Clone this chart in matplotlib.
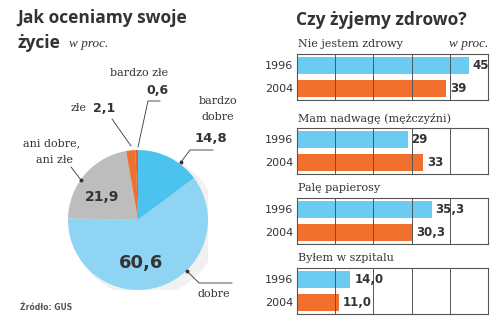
import matplotlib
matplotlib.use("Agg")
import matplotlib.pyplot as plt
from matplotlib.patches import Ellipse

# ---- data ----
pie_labels = ["bardzo dobre", "dobre", "ani dobre, ani złe", "złe", "bardzo złe"]
pie_values = [14.8, 60.6, 21.9, 2.1, 0.6]
pie_colors = ["#4cc3ef", "#8fd4f3", "#bdbdbd", "#f07030", "#e0622a"]

bar_titles = ["Nie jestem zdrowy", "Mam nadwagę (mężczyźni)", "Palę papierosy", "Byłem w szpitalu"]
years = ["1996", "2004"]
vals_1996 = [45, 29, 35.3, 14.0]
vals_2004 = [39, 33, 30.3, 11.0]
labels_1996 = ["45", "29", "35,3", "14,0"]
labels_2004 = ["39", "33", "30,3", "11,0"]
year_colors = ["#6ccbf0", "#f2702e"]

W, H = 500, 323
fig = plt.figure(figsize=(W / 100, H / 100), dpi=100)
fig.patch.set_facecolor("white")

TXT = "#333333"
TITLE = "Open Sans"
NUM = "DejaVu Sans"
SERIF = "DejaVu Serif"
ITAL = "Liberation Serif"

def fx(x):
    return x / W

def fy(y):
    return 1 - y / H

# overlay axes in pixel coords
ov = fig.add_axes([0, 0, 1, 1])
ov.set_xlim(0, W)
ov.set_ylim(H, 0)
ov.axis("off")
ov.set_zorder(5)

# ---- pie ----
cx, cy, r = 138, 220, 70
pax = fig.add_axes([fx(cx - r), fy(cy + r), fx(2 * r), (2 * r) / H])
pax.add_patch(Ellipse((0.1, -0.08), 2.06, 2.02, color="#f1f1f1", zorder=0))
pax.pie(pie_values, colors=pie_colors, startangle=90, counterclock=False,
        radius=1.0, wedgeprops=dict(linewidth=0))
pax.set_xlim(-1, 1)
pax.set_ylim(-1, 1)
pax.set_aspect("auto")
pax.axis("off")

# pie texts
ov.text(17, 18, "Jak oceniamy swoje", fontsize=12.5, fontweight="bold", family=TITLE,
        color=TXT, va="center", ha="left")
ov.text(17, 43, "życie", fontsize=12.5, fontweight="bold", family=TITLE,
        color=TXT, va="center", ha="left")
ov.text(69, 44, "w proc.", fontsize=9.5, style="italic", family=ITAL,
        color=TXT, va="center", ha="left")

SL = 8
ov.text(139, 73, "bardzo złe", fontsize=SL, family=SERIF, color=TXT, ha="center", va="center")
ov.text(157, 90, "0,6", fontsize=9, fontweight="bold", family=NUM, color=TXT, ha="center", va="center")
ov.plot([160, 148, 138], [101, 101, 147], color=TXT, lw=0.6)
ov.text(71, 108, "złe", fontsize=SL, family=SERIF, color=TXT, ha="left", va="center")
ov.text(93, 108, "2,1", fontsize=9, fontweight="bold", family=NUM, color=TXT, ha="left", va="center")
ov.plot([112, 131], [119, 146], color=TXT, lw=0.6)

ov.text(218, 101, "bardzo", fontsize=SL, family=SERIF, color=TXT, ha="center", va="center")
ov.text(218, 117, "dobre", fontsize=SL, family=SERIF, color=TXT, ha="center", va="center")
ov.text(211, 138, "14,8", fontsize=9.5, fontweight="bold", family=NUM, color=TXT, ha="center", va="center")
ov.plot([213, 190, 181], [150, 150, 162], color=TXT, lw=0.6)
ov.plot([181], [162], "o", color=TXT, ms=1.8)

ov.text(52, 143, "ani dobre,", fontsize=SL, family=SERIF, color=TXT, ha="center", va="center")
ov.text(54, 160, "ani złe", fontsize=SL, family=SERIF, color=TXT, ha="center", va="center")
ov.plot([71, 81], [167, 180], color=TXT, lw=0.6)
ov.plot([81], [180], "o", color=TXT, ms=1.8)

ov.text(102, 197, "21,9", fontsize=10, fontweight="bold", family=NUM, color=TXT, ha="center", va="center")
ov.text(141, 263, "60,6", fontsize=13, fontweight="bold", family=NUM, color=TXT, ha="center", va="center")
ov.text(214, 294, "dobre", fontsize=SL, family=SERIF, color=TXT, ha="center", va="center")
ov.plot([187, 199, 232], [271, 283, 283], color=TXT, lw=0.6)
ov.plot([187], [271], "o", color=TXT, ms=1.8)
ov.text(20, 308, "Źródło: GUS", fontsize=5.5, fontweight="bold", family=NUM, color="#555555",
        ha="left", va="center")

# ---- bars ----
ov.text(296, 20, "Czy żyjemy zdrowo?", fontsize=12.5, fontweight="bold", family=TITLE,
        color=TXT, ha="left", va="center")
ov.text(488, 44, "w proc.", fontsize=9.5, style="italic", family=ITAL, color=TXT, ha="right", va="center")

panel_tops = [54, 128, 198, 268]
panel_h = 46
x0, x1 = 297, 488
for i, top in enumerate(panel_tops):
    ax = fig.add_axes([fx(x0), fy(top + panel_h), fx(x1 - x0), panel_h / H])
    ax.set_xlim(0, 50)
    ax.set_ylim(1.5, -0.5)
    vals = [vals_1996[i], vals_2004[i]]
    labs = [labels_1996[i], labels_2004[i]]
    ax.barh([0, 1], vals, height=0.7, color=year_colors, zorder=1)
    for xv in [10, 20, 30, 40]:
        ax.axvline(xv, color="#555555", lw=0.7, zorder=2)
    for j, (v, l) in enumerate(zip(vals, labs)):
        ax.text(v + 1.0, j, l, fontsize=8.5, fontweight="bold", family=NUM, color=TXT,
                ha="left", va="center", zorder=3)
    ax.set_xticks([])
    ax.set_yticks([])
    for s in ax.spines.values():
        s.set_color("#555555")
        s.set_linewidth(0.8)
    ax.patch.set_alpha(0)
    for j, yl in enumerate(years):
        ov.text(293, top + 12 + 23 * j, yl, fontsize=8, family=NUM, color=TXT,
                ha="right", va="center")
    ov.text(298, top - 10, bar_titles[i], fontsize=8, family=SERIF,
            color=TXT, ha="left", va="center")

fig.savefig("out.png", dpi=100, facecolor="white")
